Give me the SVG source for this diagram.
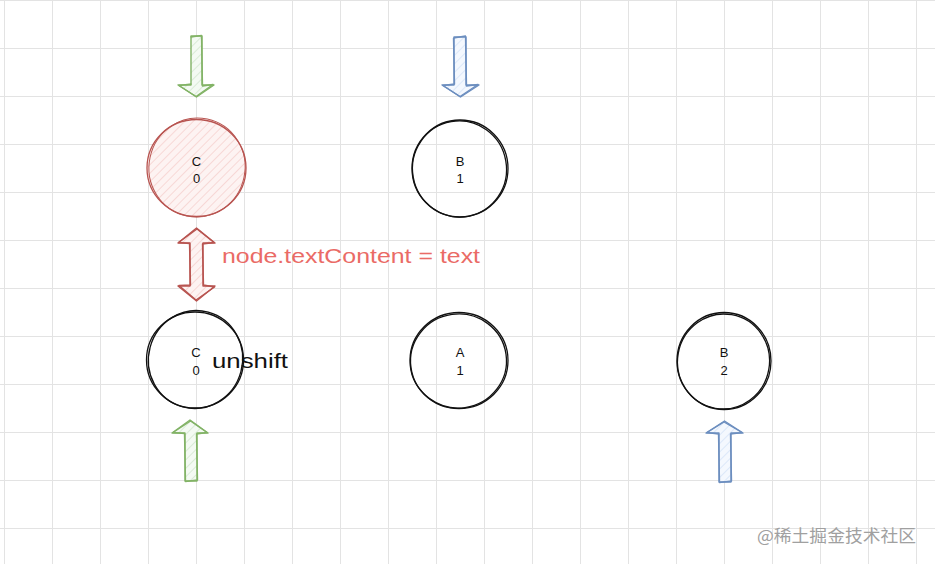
<svg xmlns="http://www.w3.org/2000/svg" width="935" height="564" viewBox="0 0 935 564">
<defs>
<style>
.grid line{stroke:#e3e3e3;stroke-width:1}
.ring{fill:none;stroke:#111;stroke-width:1.3}
.lbl{font-family:"Liberation Sans",Arial,sans-serif;font-size:13px;fill:#111;text-anchor:middle}
.hand{font-family:"Liberation Sans",Arial,sans-serif;font-size:20px}
.g{stroke:#82b366;stroke-width:1.4;stroke-linejoin:round}
.b{stroke:#6c8ebf;stroke-width:1.4;stroke-linejoin:round}
.r{stroke:#b85450;stroke-width:1.4;stroke-linejoin:round}
</style>
<pattern id="hr" patternUnits="userSpaceOnUse" width="6" height="6" patternTransform="rotate(45)">
<rect width="6" height="6" fill="#fdf3f2"/><line x1="0" y1="0" x2="0" y2="6" stroke="#f5cdca" stroke-width="1.4"/></pattern>
<pattern id="hg" patternUnits="userSpaceOnUse" width="6" height="6" patternTransform="rotate(45)">
<rect width="6" height="6" fill="#f4faf3"/><line x1="0" y1="0" x2="0" y2="6" stroke="#cfe5cc" stroke-width="1.4"/></pattern>
<pattern id="hb" patternUnits="userSpaceOnUse" width="6" height="6" patternTransform="rotate(45)">
<rect width="6" height="6" fill="#f4f8fe"/><line x1="0" y1="0" x2="0" y2="6" stroke="#d2e1f7" stroke-width="1.4"/></pattern>
</defs>
<rect width="935" height="564" fill="#ffffff"/>
<g class="grid">
<line x1="4.5" y1="0" x2="4.5" y2="564"/><line x1="52.5" y1="0" x2="52.5" y2="564"/><line x1="100.5" y1="0" x2="100.5" y2="564"/><line x1="148.5" y1="0" x2="148.5" y2="564"/><line x1="196.5" y1="0" x2="196.5" y2="564"/><line x1="244.5" y1="0" x2="244.5" y2="564"/><line x1="292.5" y1="0" x2="292.5" y2="564"/><line x1="340.5" y1="0" x2="340.5" y2="564"/><line x1="388.5" y1="0" x2="388.5" y2="564"/><line x1="436.5" y1="0" x2="436.5" y2="564"/><line x1="484.5" y1="0" x2="484.5" y2="564"/><line x1="532.5" y1="0" x2="532.5" y2="564"/><line x1="580.5" y1="0" x2="580.5" y2="564"/><line x1="628.5" y1="0" x2="628.5" y2="564"/><line x1="676.5" y1="0" x2="676.5" y2="564"/><line x1="724.5" y1="0" x2="724.5" y2="564"/><line x1="772.5" y1="0" x2="772.5" y2="564"/><line x1="820.5" y1="0" x2="820.5" y2="564"/><line x1="868.5" y1="0" x2="868.5" y2="564"/><line x1="916.5" y1="0" x2="916.5" y2="564"/>
<line x1="0" y1="0.5" x2="935" y2="0.5"/><line x1="0" y1="48.5" x2="935" y2="48.5"/><line x1="0" y1="96.5" x2="935" y2="96.5"/><line x1="0" y1="144.5" x2="935" y2="144.5"/><line x1="0" y1="192.5" x2="935" y2="192.5"/><line x1="0" y1="240.5" x2="935" y2="240.5"/><line x1="0" y1="288.5" x2="935" y2="288.5"/><line x1="0" y1="336.5" x2="935" y2="336.5"/><line x1="0" y1="384.5" x2="935" y2="384.5"/><line x1="0" y1="432.5" x2="935" y2="432.5"/><line x1="0" y1="480.5" x2="935" y2="480.5"/><line x1="0" y1="528.5" x2="935" y2="528.5"/>
</g>

<g id="connectors">
<g id="arrow-green-down">
<polygon points="191,36 202,36 202,85 214,85 196.5,97 178,85 191,85" fill="url(#hg)" class="g"/>
<polyline points="190.5,37 201.5,35.5 202.5,86 213,84.5 196,96.5 179,85.5 191.5,84" fill="none" class="g" stroke-width="0.9"/>
</g>
<g id="arrow-blue-down">
<polygon points="454,37 466,37 466,85 479,85 460.5,97 442,85 454,85" fill="url(#hb)" class="b"/>
<polyline points="453.5,38 465.5,36 466.5,86 478,84.5 460,96.5 443,85.5 454.5,84 453.5,38" fill="none" class="b" stroke-width="0.9"/>
</g>
<g id="arrow-red-double">
<polygon points="196.5,228 215,243 203,243 203,286 215,286 196.5,301 178,286 190,286 190,243 178,243" fill="url(#hr)" class="r"/>
<polyline points="197,229 214,242.5 202.5,244 203.5,285 214.5,287 196,300 179,285.5 190.5,285 189.5,243.5 178.5,242.5 197,229" fill="none" class="r" stroke-width="0.9"/>
</g>
<g id="arrow-green-up">
<polygon points="190,420 208,433 197,433 197,481 185,481 185,433 172,433" fill="url(#hg)" class="g"/>
<polyline points="190.5,421 207,432.5 196.5,434 197.5,480 185.5,481.5 184.5,433.5 173,432.5 190.5,421" fill="none" class="g" stroke-width="0.9"/>
</g>
<g id="arrow-blue-up">
<polygon points="724.5,421 743,433 731,433 731,482 719,482 719,433 706,433" fill="url(#hb)" class="b"/>
<polyline points="724,422 742,432.5 730.5,434 731.5,481 719.5,482.5 718.5,434 707,432.5 724,422" fill="none" class="b" stroke-width="0.9"/>
</g>
</g>

<g id="node-c0-top">
<ellipse cx="196.5" cy="168" rx="49" ry="49" fill="url(#hr)" stroke="none"/>
<ellipse cx="196.5" cy="168" rx="49.5" ry="48.5" fill="none" stroke="#b85450" stroke-width="1.3"/>
<ellipse cx="197" cy="167.5" rx="48" ry="49.5" fill="none" stroke="#b85450" stroke-width="1" transform="rotate(12 197 167.5)"/>
<text class="lbl" x="196.5" y="166">C</text>
<text class="lbl" x="196.5" y="183">0</text>
</g>

<g id="node-b1">
<ellipse class="ring" cx="460" cy="168.5" rx="48" ry="48.5"/>
<ellipse class="ring" cx="459.5" cy="169" rx="47" ry="48" stroke-width="1" transform="rotate(-10 459.5 169)"/>
<text class="lbl" x="460" y="166">B</text>
<text class="lbl" x="460" y="183">1</text>
</g>

<g id="node-c0-bottom">
<ellipse class="ring" cx="195" cy="360" rx="48.5" ry="48"/>
<ellipse class="ring" cx="195.5" cy="359.5" rx="47" ry="49" stroke-width="1" transform="rotate(15 195.5 359.5)"/>
<text class="lbl" x="196" y="357">C</text>
<text class="lbl" x="196" y="375">0</text>
</g>

<g id="node-a1">
<ellipse class="ring" cx="459" cy="360.5" rx="49" ry="48"/>
<ellipse class="ring" cx="458.5" cy="361" rx="48" ry="47" stroke-width="1" transform="rotate(-8 458.5 361)"/>
<text class="lbl" x="460" y="357">A</text>
<text class="lbl" x="460" y="375">1</text>
</g>

<g id="node-b2">
<ellipse class="ring" cx="724" cy="361" rx="47" ry="48.5"/>
<ellipse class="ring" cx="723.5" cy="361.5" rx="46" ry="47.5" stroke-width="1" transform="rotate(10 723.5 361.5)"/>
<text class="lbl" x="724" y="357">B</text>
<text class="lbl" x="724" y="375">2</text>
</g>

<g id="labels">
<text class="hand" x="222" y="263" fill="#ea6b66" textLength="258" lengthAdjust="spacingAndGlyphs">node.textContent = text</text>
<text class="hand" x="212" y="368" fill="#111" textLength="76" lengthAdjust="spacingAndGlyphs">unshift</text>
<text x="757" y="542" font-family="'Noto Sans CJK SC','Liberation Sans',sans-serif" font-size="17" fill="#a0a0a0" textLength="159" lengthAdjust="spacingAndGlyphs">@稀土掘金技术社区</text>
</g>
</svg>
